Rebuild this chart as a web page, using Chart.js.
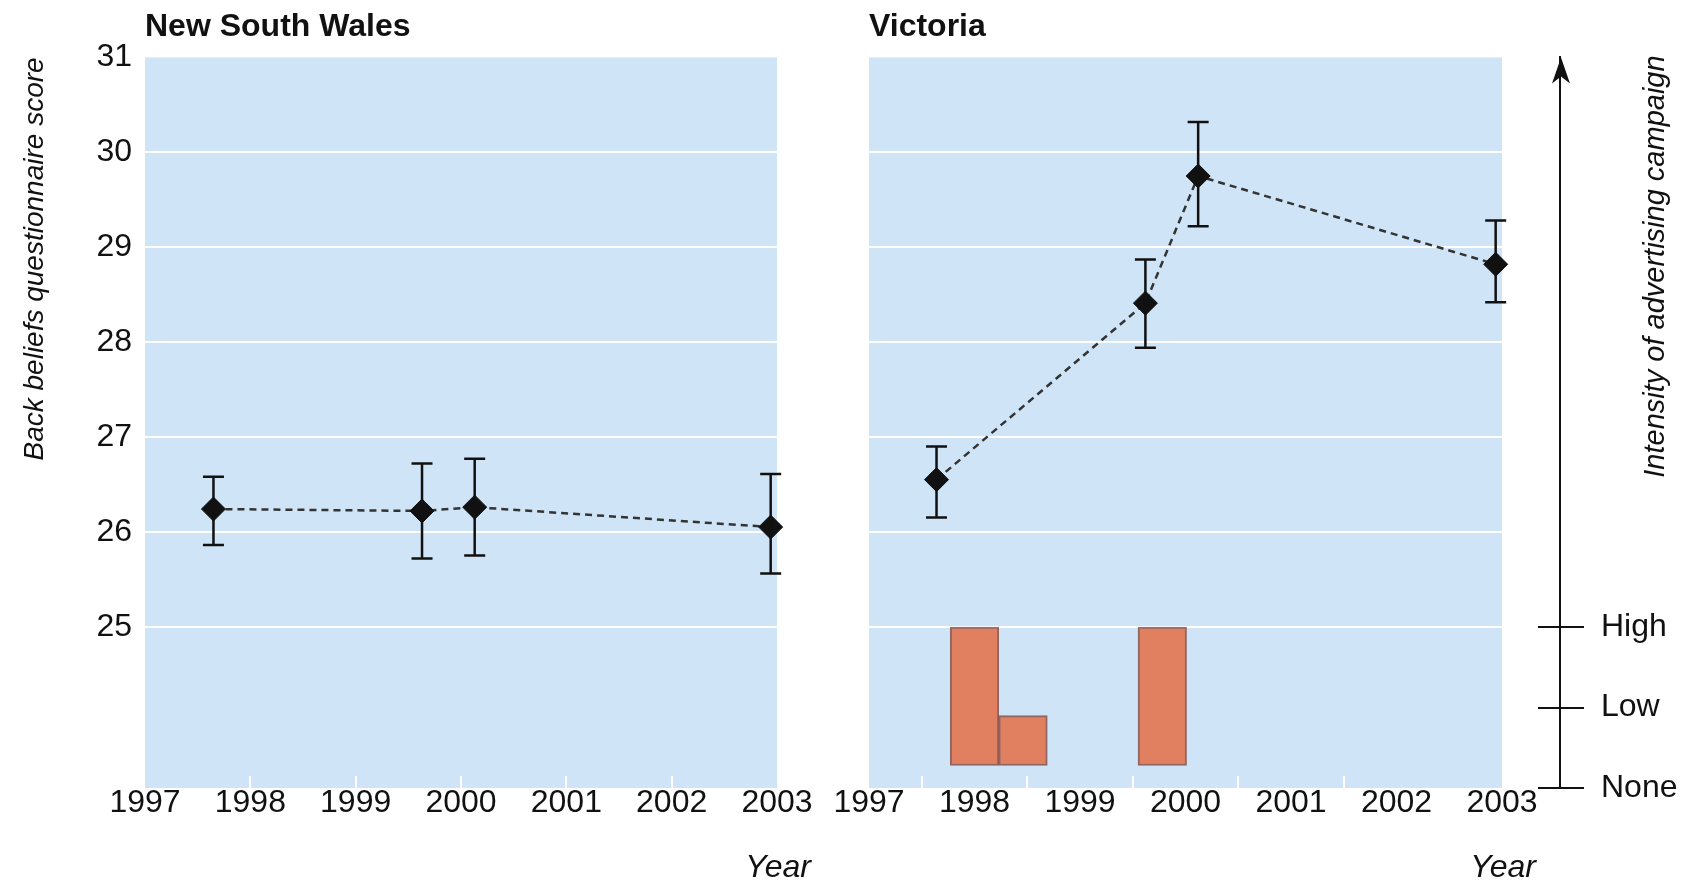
<!DOCTYPE html>
<html>
<head>
<meta charset="utf-8">
<title>Back beliefs questionnaire score</title>
<script src="https://cdn.jsdelivr.net/npm/chart.js@4.4.1/dist/chart.umd.min.js"></script>
<style>
  html, body { margin: 0; padding: 0; background: #fff; }
  body { width: 1681px; height: 883px; position: relative; overflow: hidden; }
  canvas { position: absolute; top: 0; display: block; }
  #nsw { left: 0; }
  #vic { left: 823px; }
</style>
</head>
<body>
<canvas id="nsw" width="823" height="883" style="width:823px;height:883px"></canvas>
<canvas id="vic" width="858" height="883" style="width:858px;height:883px"></canvas>
<script>
// --- data ---
const yearTicks = [1997, 1998, 1999, 2000, 2001, 2002, 2003];
const scoreTicks = [25, 26, 27, 28, 29, 30, 31];
const intensityLevels = ['None', 'Low', 'High'];

// New South Wales survey waves
const nswYears = [1997.65, 1999.63, 2000.13, 2002.94];
const nswScore = [26.24, 26.22, 26.26, 26.05];
const nswLow   = [25.86, 25.72, 25.75, 25.56];
const nswHigh  = [26.58, 26.72, 26.77, 26.61];

// Victoria survey waves
const vicYears = [1997.64, 1999.62, 2000.12, 2002.94];
const vicScore = [26.55, 28.41, 29.75, 28.82];
const vicLow   = [26.15, 27.94, 29.22, 28.42];
const vicHigh  = [26.90, 28.87, 30.32, 29.28];

// Victorian advertising campaign (intensity: 0 none, 1 low, 2 high)
const campaignYears = [1998.0, 1998.46, 1999.78];
const campaignLevel = [2, 0.9, 2];
const campaignBase = 0.28;

const FONT = '"Liberation Sans", Arial, Helvetica, sans-serif';
Chart.defaults.font.family = FONT;
Chart.defaults.color = '#111';

const panelBg = {
  id: 'panelBg',
  beforeDraw(chart) {
    const {ctx, chartArea: a} = chart;
    ctx.save();
    ctx.fillStyle = '#cfe5f7';
    ctx.fillRect(a.left, a.top, a.right - a.left, a.bottom - a.top);
    ctx.restore();
  }
};

const errorBars = {
  id: 'errorBars',
  afterDatasetsDraw(chart, args, opts) {
    const {ctx} = chart;
    const x = chart.scales.x, y = chart.scales.y;
    ctx.save();
    ctx.strokeStyle = '#111';
    ctx.lineWidth = 2.5;
    opts.years.forEach((yr, i) => {
      const px = x.getPixelForValue(yr);
      const top = y.getPixelForValue(opts.high[i]);
      const bot = y.getPixelForValue(opts.low[i]);
      ctx.beginPath();
      ctx.moveTo(px, top); ctx.lineTo(px, bot);
      ctx.moveTo(px - 10.5, top); ctx.lineTo(px + 10.5, top);
      ctx.moveTo(px - 10.5, bot); ctx.lineTo(px + 10.5, bot);
      ctx.stroke();
    });
    ctx.restore();
  }
};

// "Year" captions, plus the arrow / crossing ticks / title of the intensity axis
const extras = {
  id: 'extras',
  afterDraw(chart) {
    const {ctx} = chart;
    const x = chart.scales.x;
    ctx.save();
    ctx.fillStyle = '#111';
    ctx.font = 'italic 32px ' + FONT;
    ctx.textAlign = 'right';
    ctx.textBaseline = 'middle';
    ctx.fillText('Year', x.right + 34, x.bottom - 15);

    const s = chart.scales.yInt;
    if (s) {
      const bx = s.left + 1;
      ctx.strokeStyle = '#111';
      ctx.lineWidth = 2;
      s.ticks.forEach(t => {
        const py = Math.round(s.getPixelForValue(t.value));
        ctx.beginPath();
        ctx.moveTo(bx - 23, py); ctx.lineTo(bx, py);
        ctx.stroke();
      });
      const tip = s.top;
      ctx.beginPath();
      ctx.moveTo(bx, tip);
      ctx.lineTo(bx - 9, tip + 26);
      ctx.lineTo(bx, tip + 19);
      ctx.lineTo(bx + 9, tip + 26);
      ctx.closePath();
      ctx.fill();

      ctx.translate(s.left + 96, s.top - 2);
      ctx.rotate(-Math.PI / 2);
      ctx.font = 'italic 29px ' + FONT;
      ctx.textAlign = 'right';
      ctx.fillText('Intensity of advertising campaign', 0, 0);
    }
    ctx.restore();
  }
};

function xAxis() {
  return {
    type: 'linear', min: 1997, max: 2003, offset: false,
    afterBuildTicks: s => { s.ticks = yearTicks.map(v => ({value: v})); },
    ticks: { callback: v => String(v), font: {size: 32}, color: '#111', padding: 8, maxRotation: 0, autoSkip: false },
    grid: {
      drawOnChartArea: false, drawTicks: true, tickLength: -12, lineWidth: 2,
      color: c => (c.tick && (c.tick.value === 1997 || c.tick.value === 2003)) ? 'rgba(0,0,0,0)' : '#ffffff'
    },
    border: { display: false },
    afterFit: s => { s.height = 95; s.paddingLeft = 0; s.paddingRight = 0; }
  };
}

function scoreAxis(showLabels, width) {
  return {
    type: 'linear', min: 23.3, max: 31,
    afterBuildTicks: s => { s.ticks = scoreTicks.map(v => ({value: v})); },
    ticks: { display: showLabels, font: {size: 32}, color: '#111', padding: 13 },
    grid: {
      drawTicks: false, lineWidth: 2,
      color: c => (c.tick && c.tick.value === 31) ? 'rgba(0,0,0,0)' : '#ffffff'
    },
    border: { display: false },
    title: {
      display: showLabels, text: 'Back beliefs questionnaire score', align: 'end',
      font: {size: 28, style: 'italic'}, color: '#111', padding: {top: 18, bottom: 0}
    },
    afterFit: s => { s.width = width; }
  };
}

function scoreLine(years, score) {
  return {
    type: 'line', yAxisID: 'y',
    data: years.map((x, i) => ({x, y: score[i]})),
    borderColor: '#333333', borderWidth: 2.5, borderDash: [7, 5],
    pointStyle: 'rectRot', pointRadius: 12, pointHoverRadius: 12,
    pointBackgroundColor: '#111', pointBorderColor: '#111', pointBorderWidth: 1,
    tension: 0, clip: false
  };
}

function titleOpts(text) {
  return {
    display: true, text, align: 'start', fullSize: false,
    font: {size: 32, weight: 'bold'}, color: '#111',
    padding: {top: 8, bottom: 11}
  };
}

new Chart(document.getElementById('nsw'), {
  type: 'line',
  data: { datasets: [scoreLine(nswYears, nswScore)] },
  options: {
    responsive: false, animation: false,
    layout: { padding: {left: 0, right: 46, top: 0, bottom: 0} },
    scales: { x: xAxis(), y: scoreAxis(true, 145) },
    plugins: {
      legend: {display: false}, tooltip: {enabled: false},
      title: titleOpts('New South Wales'),
      errorBars: {years: nswYears, low: nswLow, high: nswHigh}
    }
  },
  plugins: [panelBg, errorBars, extras]
});

new Chart(document.getElementById('vic'), {
  type: 'line',
  data: {
    datasets: [
      scoreLine(vicYears, vicScore),
      {
        type: 'bar', yAxisID: 'yInt', label: 'Campaign',
        data: campaignYears.map((x, i) => ({x, y: [campaignBase, campaignLevel[i]]})),
        backgroundColor: '#e17f61', borderColor: 'rgba(120,48,32,0.7)', borderWidth: 2,
        borderSkipped: false, barPercentage: 1, categoryPercentage: 1, grouped: false
      }
    ]
  },
  options: {
    responsive: false, animation: false,
    layout: { padding: 0 },
    scales: {
      x: xAxis(),
      y: scoreAxis(false, 46),
      ySpace: {
        type: 'linear', position: 'right', weight: 0,
        ticks: {display: false}, grid: {display: false}, border: {display: false},
        afterFit: s => { s.width = 58; }
      },
      yInt: {
        type: 'linear', position: 'right', weight: 1, min: 0, max: 9.08,
        afterBuildTicks: s => { s.ticks = intensityLevels.map((_, i) => ({value: i})); },
        ticks: { callback: v => intensityLevels[v], font: {size: 32}, color: '#111', padding: 17 },
        grid: { drawOnChartArea: false, drawTicks: true, tickLength: 24, lineWidth: 2, color: '#111' },
        border: { display: true, width: 2, color: '#111' },
        afterFit: s => { s.width = 121; }
      }
    },
    plugins: {
      legend: {display: false}, tooltip: {enabled: false},
      title: titleOpts('Victoria'),
      errorBars: {years: vicYears, low: vicLow, high: vicHigh}
    }
  },
  plugins: [panelBg, errorBars, extras]
});
</script>
</body>
</html>
